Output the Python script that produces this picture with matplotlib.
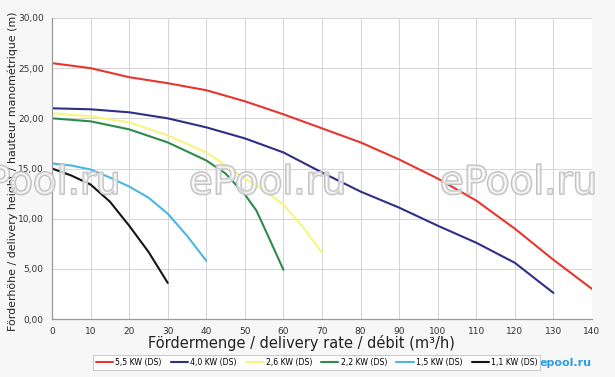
"""Pump curves: delivery height vs delivery rate"""
import matplotlib.pyplot as plt
import matplotlib.patheffects as pe
from matplotlib.ticker import FuncFormatter

# 5,5 KW (DS)
q_55 = [0, 10, 20, 30, 40, 50, 60, 70, 80, 90, 100, 110, 120, 130, 140]
h_55 = [25.5, 25.0, 24.1, 23.5, 22.8, 21.7, 20.4, 19.0, 17.6, 15.9, 14.0, 11.8, 9.0, 5.9, 3.0]
# 4,0 KW (DS)
q_40 = [0, 10, 20, 30, 40, 50, 60, 70, 80, 90, 100, 110, 120, 130]
h_40 = [21.0, 20.9, 20.6, 20.0, 19.1, 18.0, 16.6, 14.6, 12.7, 11.1, 9.3, 7.6, 5.6, 2.6]
# 2,6 KW (DS)
q_26 = [0, 10, 20, 30, 40, 45, 50, 55, 60, 65, 70]
h_26 = [20.5, 20.2, 19.6, 18.3, 16.6, 15.3, 14.0, 12.8, 11.4, 9.2, 6.6]
# 2,2 KW (DS)
q_22 = [0, 10, 20, 30, 40, 45, 50, 53, 56, 60]
h_22 = [20.0, 19.7, 18.9, 17.6, 15.8, 14.5, 12.4, 10.8, 8.3, 4.9]
# 1,5 KW (DS)
q_15 = [0, 5, 10, 15, 20, 25, 30, 35, 40]
h_15 = [15.5, 15.3, 14.9, 14.1, 13.2, 12.1, 10.5, 8.3, 5.8]
# 1,1 KW (DS)
q_11 = [0, 5, 10, 15, 20, 25, 30]
h_11 = [15.0, 14.3, 13.4, 11.7, 9.3, 6.7, 3.6]

labels = ["5,5 KW (DS)", "4,0 KW (DS)", "2,6 KW (DS)",
          "2,2 KW (DS)", "1,5 KW (DS)", "1,1 KW (DS)"]
colors = ["#e8362f", "#2f2f85", "#f6f57c", "#2f8a4c", "#4cb6e0", "#151515"]
series = [(q_55, h_55), (q_40, h_40), (q_26, h_26),
          (q_22, h_22), (q_15, h_15), (q_11, h_11)]

fig = plt.figure(figsize=(6.15, 3.77), dpi=100)
fig.patch.set_facecolor("#f7f7f7")
ax = fig.add_axes([0.0846, 0.1538, 0.878, 0.7985])
ax.set_facecolor("white")

for (q, h), c, lab in zip(series, colors, labels):
    ax.plot(q, h, color=c, lw=1.5, label=lab, solid_capstyle="round",
            solid_joinstyle="round")

ax.set_xlim(0, 140)
ax.set_ylim(0, 30)
ax.set_xticks(range(0, 141, 10))
ax.set_yticks(range(0, 31, 5))
ax.yaxis.set_major_formatter(FuncFormatter(lambda v, p: f"{v:.2f}".replace(".", ",")))
ax.grid(True, color="#d4d4d4", lw=0.7)
ax.tick_params(length=0, labelsize=6.5, labelcolor="#333333", pad=6)
for side in ["top", "right"]:
    ax.spines[side].set_visible(False)
for side in ["left", "bottom"]:
    ax.spines[side].set_color("#9a9a9a")
    ax.spines[side].set_linewidth(0.9)

fig.text(0.021, 0.545, "Förderhöhe / delivery height / hauteur manométrique (m)",
         fontsize=7.9, color="#222222", rotation=90, ha="center", va="center")
fig.text(0.49, 0.09, "Fördermenge / delivery rate / débit (m³/h)",
         fontsize=10.5, color="#222222", ha="center", va="center")

leg = fig.legend(loc="center", bbox_to_anchor=(0.515, 0.038), ncol=6,
                 fontsize=5.6, frameon=True, handlelength=2.2, handletextpad=0.3,
                 columnspacing=1.2, borderpad=0.35, fancybox=False)
leg.get_frame().set_edgecolor("#bbbbbb")
leg.get_frame().set_linewidth(0.7)

# watermarks
for xw in [0.068, 0.435, 0.843]:
    fig.text(xw, 0.515, "ePool.ru", fontsize=28, color=(1, 1, 1, 0.45),
             ha="center", va="center",
             path_effects=[pe.withStroke(linewidth=1.5, foreground="#c0c0c0")])
fig.text(0.92, 0.038, "epool.ru", fontsize=8, color="#2a9fe0", weight="bold",
         ha="center", va="center")

fig.savefig("out.png", dpi=100)
